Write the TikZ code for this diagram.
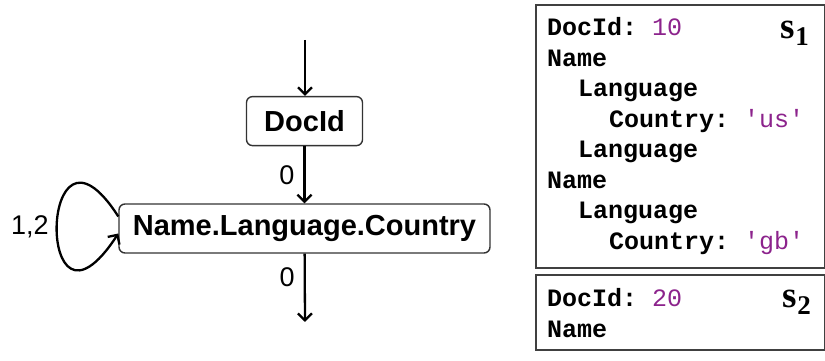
\documentclass[tikz,border=0pt]{standalone}
\usepackage{fontspec}
\setmainfont{Liberation Sans}
\setmonofont{Liberation Mono}
\newfontfamily\setfont{Liberation Serif}
\usetikzlibrary{arrows.meta, positioning}
\definecolor{valcol}{RGB}{140,35,140}
\tikzset{%
	field/.style={draw=black!80, line width=1.4pt, rectangle, rounded corners=6pt,%
		minimum height=49pt, inner xsep=0pt, font=\fontsize{29}{31}\selectfont\bfseries},
	conn/.style={line width=2.3pt, -{Straight Barb[length=7pt, width=14pt]}},
	lbl/.style={font=\fontsize{27}{29}\selectfont, inner sep=2pt},
	rec/.style={draw=black!75, line width=2pt, rectangle, inner sep=0pt},
	code/.style={anchor=base west, inner sep=0pt, font=\fontsize{25}{25}\selectfont\ttfamily\bfseries},
	setname/.style={anchor=base east, inner sep=0pt, font=\fontsize{37}{37}\selectfont\setfont\bfseries}
}
\newcommand{\subidx}[1]{\raisebox{-7pt}{\fontsize{27}{27}\selectfont #1}}
\newcommand{\val}[1]{\textcolor{valcol}{\mdseries #1}}

\begin{document}
\begin{tikzpicture}[x=1pt, y=1pt]
	\useasboundingbox (0,0) rectangle (825,361);

	% the tree of fields
	\node[field, minimum width=371pt] (name) at (304.5,132.5) {Name.Language.Country};
	\node[field, minimum width=116pt, above=57pt of name] (docid) {DocId};
	\coordinate (top) at (305,321);
	\coordinate (bot) at (305,39);

	\draw[conn] (top) -- (top |- docid.north);
	\draw[conn] (docid) -- node[lbl, left=7pt]{0} (name);
	\draw[conn] (name) -- node[lbl, left=7pt, pos=0.35]{0} (bot);
	\draw[conn] ([yshift=12pt]name.west) .. controls +(-80,125) and +(-84,-129) ..
		node[lbl, left=5pt, pos=0.5]{1,2} ([yshift=-5pt]name.west);

	% the two records
	\node[rec, minimum width=289pt, minimum height=263pt, anchor=north west] (s1) at (535,357) {};
	\node[rec, minimum width=289pt, minimum height=75pt, anchor=north west] (s2) at (535,87) {};

	\node[code] (d1) at ([shift={(12pt,-32pt)}]s1.north west) {DocId: \val{10}};
	\node[code] (n1) at ([yshift=-30.5pt]d1.base west) {Name};
	\node[code] (l1) at ([shift={(31pt,-30.5pt)}]n1.base west) {Language};
	\node[code] (c1) at ([shift={(31pt,-30.5pt)}]l1.base west) {Country: \val{'us'}};
	\node[code] (l2) at ([shift={(-31pt,-30.5pt)}]c1.base west) {Language};
	\node[code] (n2) at ([shift={(-31pt,-30.5pt)}]l2.base west) {Name};
	\node[code] (l3) at ([shift={(31pt,-30.5pt)}]n2.base west) {Language};
	\node[code] (c2) at ([shift={(31pt,-30.5pt)}]l3.base west) {Country: \val{'gb'}};
	\node[setname] (s1name) at ([shift={(-17pt,-35pt)}]s1.north east) {s\subidx{1}};

	\node[code] (d2) at ([shift={(12pt,-33pt)}]s2.north west) {DocId: \val{20}};
	\node[code] (n3) at ([yshift=-30.5pt]d2.base west) {Name};
	\node[setname] (s2name) at ([shift={(-15pt,-34pt)}]s2.north east) {s\subidx{2}};
\end{tikzpicture}
\end{document}
